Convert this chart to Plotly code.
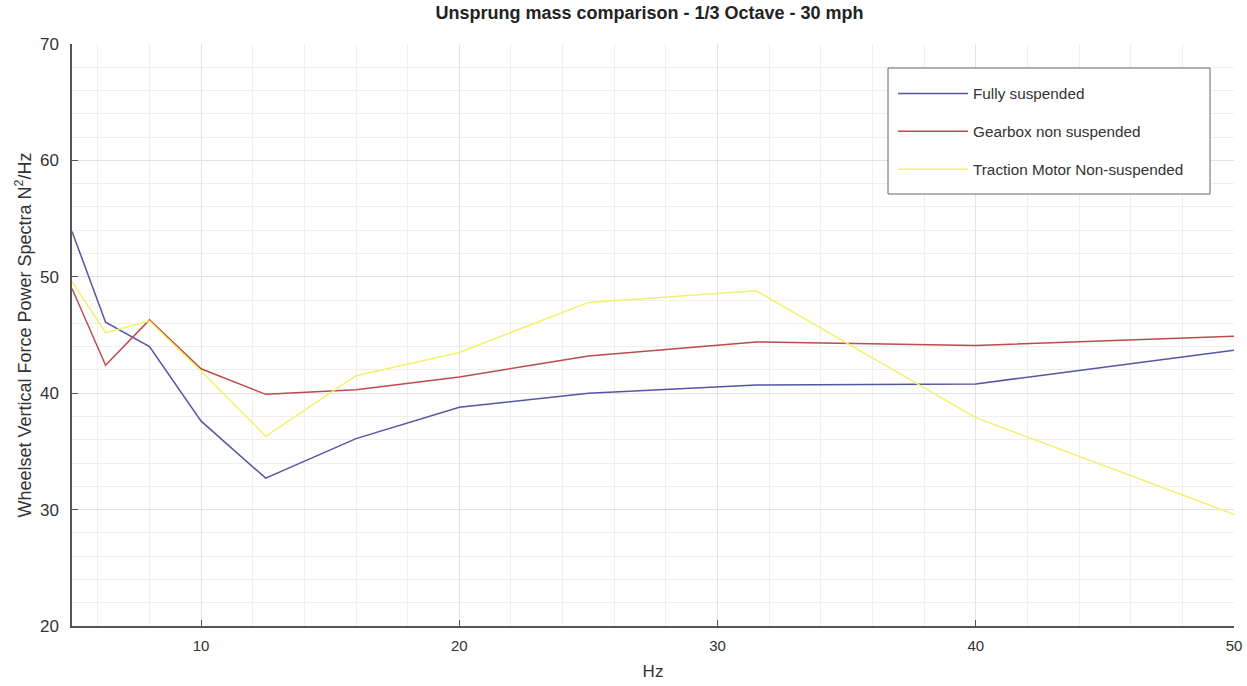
import plotly.graph_objects as go

freq_hz = [5, 6.3, 8, 10, 12.5, 16, 20, 25, 31.5, 40, 50]
fully_suspended = [53.9, 46.1, 44.0, 37.6, 32.7, 36.1, 38.8, 40.0, 40.7, 40.8, 43.7]
gearbox_non_suspended = [49.0, 42.4, 46.3, 42.1, 39.9, 40.3, 41.4, 43.2, 44.4, 44.1, 44.9]
traction_motor_non_suspended = [49.6, 45.2, 46.2, 41.9, 36.3, 41.5, 43.5, 47.8, 48.8, 37.9, 29.6]

series_names = ["Fully suspended", "Gearbox non suspended", "Traction Motor Non-suspended"]
series_values = [fully_suspended, gearbox_non_suspended, traction_motor_non_suspended]
series_colors = ["rgb(85,85,165)", "rgb(190,75,75)", "rgb(242,242,105)"]

x_ticks = [10, 20, 30, 40, 50]
y_ticks = [20, 30, 40, 50, 60, 70]

fig = go.Figure()
for i, (name, vals, col) in enumerate(zip(series_names, series_values, series_colors)):
    fig.add_trace(go.Scatter(
        x=freq_hz, y=vals, mode="lines", name=name,
        line=dict(color=col, width=1.5),
        legendgroup=f"g{i}",
    ))

W, H = 1247, 686
L, R, T, B = 72, 13, 44, 60
pw, ph = W - L - R, H - T - B

def px_x(p):
    return (p - L) / pw

def px_y(p):
    return 1 - (p - T) / ph

font = "Liberation Sans, Arial, sans-serif"
fig.update_layout(
    width=W, height=H,
    margin=dict(l=L, r=R, t=T, b=B, autoexpand=False),
    paper_bgcolor="white", plot_bgcolor="white",
    font=dict(family=font, size=14, color="#333"),
    title=dict(text="<b>Unsprung mass comparison - 1/3 Octave - 30 mph</b>",
               xref="paper", x=0.497, xanchor="center", y=0.981, yanchor="middle",
               font=dict(size=18, color="#222")),
    showlegend=True,
    legend=dict(
        x=px_x(893), y=px_y(77), xanchor="left", yanchor="top",
        bgcolor="rgba(0,0,0,0)", borderwidth=0,
        font=dict(size=15.3, color="#333"),
        tracegroupgap=15, itemwidth=70, indentation=0,
    ),
    shapes=[dict(type="rect", xref="paper", yref="paper",
                 x0=px_x(888), x1=px_x(1210), y0=px_y(194), y1=px_y(68),
                 line=dict(color="#666", width=1), fillcolor="white", layer="above")],
)
fig.update_xaxes(
    range=[5, 50], tickvals=x_ticks, ticks="inside", ticklen=6, tickcolor="#555",
    showline=True, linecolor="#555", linewidth=1.5, mirror=False, automargin=False,
    showgrid=True, gridcolor="#e2e2e2", gridwidth=1, zeroline=False,
    minor=dict(dtick=2, tick0=0, showgrid=True, gridcolor="#efefef", gridwidth=1),
    title=dict(text="Hz", font=dict(size=17, color="#333"), standoff=12),
    tickfont=dict(size=15, color="#333"), ticklabelstandoff=5,
)
fig.update_yaxes(
    range=[20, 70], tickvals=y_ticks, ticks="inside", ticklen=6, tickcolor="#555",
    showline=True, linecolor="#555", linewidth=1.5, mirror=False, automargin=False,
    showgrid=True, gridcolor="#e2e2e2", gridwidth=1, zeroline=False,
    minor=dict(dtick=2, tick0=0, showgrid=True, gridcolor="#efefef", gridwidth=1),
    title=dict(text="Wheelset Vertical Force Power Spectra N<sup>2</sup>/Hz",
               font=dict(size=18, color="#333"), standoff=4),
    tickfont=dict(size=17, color="#333"), ticklabelstandoff=8,
)

fig.write_html(
    "out.html",
    config={"displayModeBar": False},
    post_script="document.body.style.margin='0';document.body.style.overflow='hidden';",
)
